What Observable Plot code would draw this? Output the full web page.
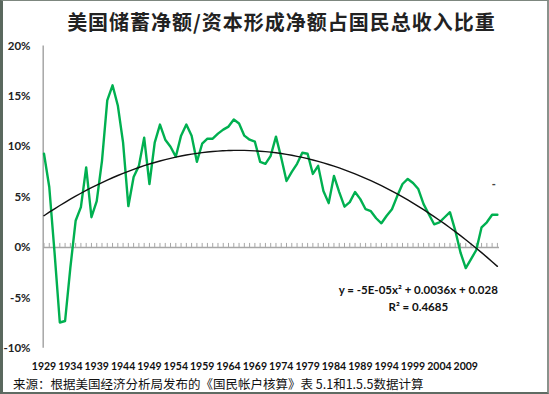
<!DOCTYPE html>
<html><head><meta charset="utf-8">
<script src="https://cdn.jsdelivr.net/npm/d3@7"></script>
<script src="https://cdn.jsdelivr.net/npm/@observablehq/plot@0.6"></script>
<style>
html,body{margin:0;padding:0;background:#fff;}
#wrap{position:relative;width:549px;height:394px;overflow:hidden;background:#fff;}
#frame{position:absolute;left:0;top:0;width:549px;height:394px;box-sizing:border-box;border-top:1px solid #7d877f;border-right:2px solid #8a928c;border-bottom:2px solid #5f6b63;border-left:3px solid #5a685e;pointer-events:none;}
#title{position:absolute;left:0;top:7px;width:549px;padding-left:14px;box-sizing:border-box;text-align:center;font:700 20px "Noto Sans CJK SC";color:#222;letter-spacing:1px;}
#chart{position:absolute;left:0;top:0;}
#caption{position:absolute;left:13px;top:374px;font:12.5px "Noto Sans CJK SC";color:#111;white-space:nowrap;}
</style>
</head><body>
<div id="wrap">
  <div id="chart"></div>
  <div id="title">美国储蓄净额/资本形成净额占国民总收入比重</div>
  <div id="caption">来源：根据美国经济分析局发布的《国民帐户核算》表 5.1和1.5.5数据计算</div>
  <div id="frame"></div>
</div>
<script>
const years = [1929,1930,1931,1932,1933,1934,1935,1936,1937,1938,1939,1940,1941,1942,1943,1944,1945,1946,1947,1948,1949,
1950,1951,1952,1953,1954,1955,1956,1957,1958,1959,1960,1961,1962,1963,1964,1965,1966,1967,1968,1969,
1970,1971,1972,1973,1974,1975,1976,1977,1978,1979,1980,1981,1982,1983,1984,1985,1986,1987,1988,1989,
1990,1991,1992,1993,1994,1995,1996,1997,1998,1999,2000,2001,2002,2003,2004,2005,2006,2007,2008,2009,
2010,2011,2012,2013,2014,2015];
// 净储蓄占国民总收入比重 (%)
const values = [9.3,6.0,-0.5,-7.45,-7.3,-2.0,2.65,4.0,7.95,3.0,4.6,8.6,14.6,16.1,14.1,10.4,4.1,7.0,8.1,10.9,6.3,
10.4,12.2,10.7,10.0,9.0,11.1,12.2,11.1,8.5,10.3,10.8,10.8,11.3,11.7,12.0,12.7,12.3,11.1,10.7,10.5,
8.5,8.3,9.1,11.0,8.9,6.6,7.5,8.3,9.4,9.3,7.3,8.1,5.6,4.4,7.1,5.5,4.05,4.5,5.5,4.8,
3.8,3.6,2.9,2.4,3.15,3.8,5.1,6.3,6.8,6.4,5.8,4.3,3.3,2.3,2.5,3.0,3.5,1.7,-0.5,-2.05,
-1.15,-0.25,2.0,2.5,3.25,3.25];
const xTickLabels = [1929,1934,1939,1944,1949,1954,1959,1964,1969,1974,1979,1984,1989,1994,1999,2004,2009];
const yTicks = [-10,-5,0,5,10,15,20];
const eqLines = ["y = -5E-05x² + 0.0036x + 0.028", "R² = 0.4685"];
const eqYears = [2000, 2000];
const eqY = [-4.3, -5.9];
// stray legend marker in the original
const markerYear = [2014.3];
const markerY = [6.4];

const data = years.map((yr,i)=>({year:yr, v:values[i]}));

// quadratic least-squares trend on x = 1..n
function quadFit(vals){
  let S=[0,0,0,0,0], T=[0,0,0];
  vals.forEach((v,i)=>{const x=i+1; let p=1; for(let k=0;k<5;k++){S[k]+=p; if(k<3) T[k]+=p*v; p*=x;}});
  const A=[[S[4],S[3],S[2],T[2]],[S[3],S[2],S[1],T[1]],[S[2],S[1],S[0],T[0]]];
  for(let c=0;c<3;c++){for(let r=c+1;r<3;r++){const f=A[r][c]/A[c][c];for(let k=c;k<4;k++)A[r][k]-=f*A[c][k];}}
  const s=[0,0,0];
  for(let r=2;r>=0;r--){let sum=A[r][3];for(let k=r+1;k<3;k++)sum-=A[r][k]*s[k];s[r]=sum/A[r][r];}
  return s;
}
const [qa,qb,qc] = quadFit(values);
const trend = years.map((yr,i)=>({year:yr, v: qa*(i+1)*(i+1)+qb*(i+1)+qc}));

const W=549, H=372;
const chart = Plot.plot({
  width: W, height: H,
  marginTop: 45.5, marginBottom: H-347.7, marginLeft: 43, marginRight: 50,
  x: {type:"linear", domain:[1929, 2015.4], range:[43.5, 499], label:null},
  y: {domain:[-10, 20], label:null},
  style: {background:"transparent", overflow:"visible"},
  marks: [
    Plot.ruleX([1929], {y1:-10, y2:20, stroke:"#a6a6a6", strokeWidth:1.5, dx:-0.8}),
    Plot.ruleY([0], {stroke:"#a6a6a6", strokeWidth:1.5}),
    Plot.ruleX(years, {x:d=>d, y1:0, y2:0.4, stroke:"#a6a6a6", strokeWidth:1}),
    Plot.axisY({ticks: yTicks, tickSize:0, tickPadding:13, label:null, tickFormat:d=>d+"%", fontSize:11.5, fontWeight:"bold", fontFamily:"Lato", fill:"#222"}),
    Plot.axisX({ticks: xTickLabels, tickSize:0, tickPadding:14, label:null, tickFormat:d=>String(d), fontSize:10.5, fontWeight:"bold", fontFamily:"Lato", fill:"#111"}),
    Plot.line(data, {x:"year", y:"v", stroke:"#00b050", strokeWidth:2.4, strokeLinejoin:"round"}),
    Plot.line(trend, {x:"year", y:"v", stroke:"#111", strokeWidth:1.4, curve:"natural"}),
    Plot.text(eqLines, {x:(d,i)=>eqYears[i], y:(d,i)=>eqY[i], text:d=>d, fontSize:11.5, fontWeight:"bold", fontFamily:"Lato", fill:"#111"}),
    Plot.text(["-"], {x:(d,i)=>markerYear[i], y:(d,i)=>markerY[i], text:d=>d, fontSize:11, fontWeight:"bold", fill:"#444"})
  ]
});
document.getElementById("chart").appendChild(chart);
</script>
</body></html>
